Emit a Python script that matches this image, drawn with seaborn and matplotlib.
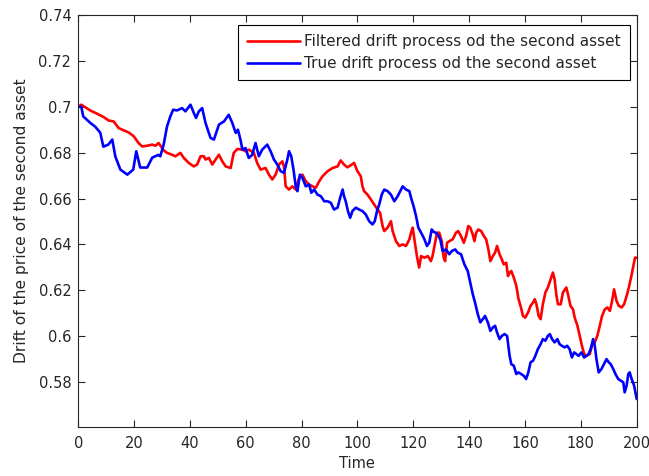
import matplotlib
matplotlib.use("Agg")
import matplotlib.pyplot as plt
import seaborn as sns
import pandas as pd

# Filtered drift estimate of the second asset (time, value)
t_filtered = [0, 1.1, 4.3, 6.7, 9.1, 10.9, 12.7, 14.5, 16.3, 18.1, 19.9, 21.6, 22.9, 24.7, 26.5,
              27.6, 28.8, 30.6, 31.8, 33.6, 34.8, 36.6, 37.8, 39.6, 41.4, 42.6, 43.8, 45.0, 45.6,
              46.8, 48.0, 49.2, 50.4, 51.6, 52.8, 54.6, 55.7, 57.0, 58.8, 59.9, 61.1, 62.9, 64.1,
              65.3, 67.1, 68.3, 69.5, 70.7, 71.9, 73.1, 73.7, 74.3, 75.5, 76.7, 77.9, 79.1, 80.3,
              81.5, 82.7, 83.9, 85.1, 86.3, 87.5, 89.3, 91.1, 92.9, 94.0, 95.2, 96.4, 97.6, 98.8,
              100.0, 101.2, 101.8, 102.4, 103.6, 104.8, 106.0, 107.2, 108.1, 109.0, 109.6, 110.8,
              112.0, 112.6, 113.8, 115.0, 116.2, 117.4, 118.6, 119.2, 119.8, 120.4, 121.3, 122.1,
              122.8, 124.0, 125.2, 126.3, 126.9, 127.8, 128.5, 129.3, 130.2, 130.9, 131.4, 132.1,
              132.9, 134.1, 135.3, 136.1, 137.1, 138.1, 138.9, 139.7, 140.4, 141.3, 141.9, 142.5,
              143.3, 144.3, 145.3, 146.1, 146.9, 147.6, 148.5, 149.3, 150.0, 150.9, 151.7, 152.4,
              153.3, 153.9, 154.5, 155.1, 156.0, 156.9, 157.7, 158.4, 159.3, 160.1, 161.1, 162.0,
              162.9, 163.5, 164.1, 164.9, 165.6, 166.4, 167.3, 168.2, 169.2, 170.0, 170.6, 171.2,
              171.8, 172.8, 173.6, 174.8, 175.4, 176.3, 177.2, 177.8, 178.8, 179.6, 180.4, 181.2,
              182.0, 183.2, 184.0, 185.0, 185.9, 186.8, 187.6, 188.6, 189.5, 190.4, 191.2, 191.9,
              192.8, 193.6, 194.6, 195.5, 196.4, 197.2, 198.1, 198.8, 199.4, 200.0]
filtered = [0.7000, 0.7009, 0.6984, 0.6970, 0.6955, 0.6940, 0.6936, 0.6907, 0.6897, 0.6888, 0.6871,
            0.6842, 0.6827, 0.6830, 0.6835, 0.6830, 0.6842, 0.6810, 0.6799, 0.6791, 0.6784, 0.6799,
            0.6777, 0.6755, 0.6740, 0.6748, 0.6784, 0.6784, 0.6770, 0.6777, 0.6748, 0.6770, 0.6791,
            0.6762, 0.6740, 0.6733, 0.6799, 0.6816, 0.6813, 0.6806, 0.6813, 0.6799, 0.6755, 0.6726,
            0.6733, 0.6704, 0.6683, 0.6704, 0.6748, 0.6762, 0.6740, 0.6653, 0.6639, 0.6653, 0.6639,
            0.6690, 0.6704, 0.6675, 0.6661, 0.6653, 0.6647, 0.6675, 0.6697, 0.6719, 0.6733, 0.6740,
            0.6766, 0.6748, 0.6736, 0.6745, 0.6755, 0.6719, 0.6697, 0.6653, 0.6632, 0.6617, 0.6596,
            0.6574, 0.6552, 0.6538, 0.6480, 0.6458, 0.6473, 0.6501, 0.6458, 0.6414, 0.6393, 0.6400,
            0.6393, 0.6422, 0.6451, 0.6473, 0.6422, 0.6349, 0.6299, 0.6349, 0.6342, 0.6349, 0.6327,
            0.6349, 0.6407, 0.6451, 0.6451, 0.6414, 0.6342, 0.6327, 0.6407, 0.6414, 0.6422, 0.6451,
            0.6458, 0.6436, 0.6407, 0.6436, 0.6480, 0.6473, 0.6443, 0.6414, 0.6451, 0.6465, 0.6458,
            0.6436, 0.6422, 0.6378, 0.6327, 0.6349, 0.6364, 0.6393, 0.6357, 0.6335, 0.6313, 0.6320,
            0.6262, 0.6277, 0.6284, 0.6255, 0.6219, 0.6161, 0.6132, 0.6088, 0.6081, 0.6103, 0.6132,
            0.6147, 0.6161, 0.6139, 0.6088, 0.6074, 0.6139, 0.6190, 0.6212, 0.6248, 0.6277, 0.6248,
            0.6183, 0.6139, 0.6139, 0.6190, 0.6212, 0.6183, 0.6132, 0.6117, 0.6081, 0.6045, 0.6001,
            0.5958, 0.5922, 0.5914, 0.5922, 0.5958, 0.5973, 0.6001, 0.6045, 0.6088, 0.6117, 0.6125,
            0.6110, 0.6153, 0.6204, 0.6153, 0.6132, 0.6125, 0.6139, 0.6175, 0.6212, 0.6262, 0.6306,
            0.6342, 0.6342]

# True drift of the second asset (time, value)
t_true = [0, 1.1, 1.8, 4.3, 6.1, 7.9, 9.0, 10.8, 12.2, 13.3, 15.1, 17.6, 19.7, 20.8, 22.2, 24.7,
          26.5, 28.7, 29.4, 30.6, 31.8, 33.0, 34.0, 35.4, 37.2, 38.4, 40.2, 41.4, 42.2, 43.2, 44.4,
          45.6, 47.4, 48.6, 50.4, 52.2, 53.9, 55.2, 56.4, 57.2, 58.1, 58.8, 59.9, 61.1, 62.3, 63.5,
          64.7, 65.9, 67.7, 68.9, 70.1, 71.3, 72.5, 73.7, 74.9, 75.5, 76.3, 77.1, 77.9, 78.5, 79.4,
          80.3, 81.5, 82.7, 83.5, 84.5, 85.7, 86.9, 88.1, 89.3, 90.5, 91.6, 92.9, 93.8, 94.7, 95.2,
          95.8, 96.6, 97.4, 98.2, 99.4, 100.6, 101.8, 103.0, 104.2, 105.4, 106.2, 107.0, 107.8,
          108.7, 109.6, 110.8, 112.0, 113.2, 114.4, 115.6, 116.2, 117.4, 118.6, 119.2, 120.1, 121.0,
          121.8, 122.8, 124.0, 124.9, 125.7, 126.6, 127.3, 128.1, 128.9, 129.7, 130.5, 131.7, 132.9,
          133.8, 135.0, 135.9, 137.1, 138.3, 139.5, 140.4, 141.3, 142.1, 143.1, 144.0, 144.9, 145.7,
          146.7, 147.6, 148.5, 149.3, 150.0, 150.9, 151.7, 152.7, 153.6, 154.5, 155.1, 156.0, 156.9,
          157.7, 158.6, 159.6, 160.4, 161.2, 162.0, 162.9, 163.7, 164.6, 165.6, 166.4, 167.3, 168.2,
          168.9, 169.7, 170.6, 171.6, 172.4, 173.2, 174.2, 175.1, 176.0, 176.8, 177.6, 178.4, 179.2,
          180.2, 181.2, 182.0, 182.8, 183.5, 184.4, 185.0, 185.6, 186.4, 187.4, 188.3, 189.2, 190.0,
          190.7, 191.6, 192.4, 193.4, 194.3, 195.2, 195.7, 196.4, 197.0, 197.5, 198.2, 199.1, 200.0]
true_drift = [0.7000, 0.7000, 0.6958, 0.6930, 0.6913, 0.6887, 0.6826, 0.6835, 0.6857, 0.6783, 0.6726,
              0.6704, 0.6726, 0.6806, 0.6735, 0.6735, 0.6778, 0.6790, 0.6784, 0.6835, 0.6914, 0.6958,
              0.6987, 0.6984, 0.6994, 0.6980, 0.7009, 0.6973, 0.6951, 0.6980, 0.6994, 0.6929, 0.6864,
              0.6857, 0.6922, 0.6936, 0.6965, 0.6929, 0.6886, 0.6900, 0.6857, 0.6813, 0.6820, 0.6777,
              0.6790, 0.6842, 0.6784, 0.6813, 0.6835, 0.6806, 0.6770, 0.6748, 0.6719, 0.6712, 0.6770,
              0.6806, 0.6784, 0.6726, 0.6653, 0.6632, 0.6704, 0.6690, 0.6653, 0.6661, 0.6625, 0.6639,
              0.6617, 0.6610, 0.6588, 0.6588, 0.6581, 0.6552, 0.6560, 0.6603, 0.6639, 0.6610, 0.6588,
              0.6545, 0.6516, 0.6545, 0.6560, 0.6552, 0.6545, 0.6530, 0.6501, 0.6487, 0.6501, 0.6545,
              0.6574, 0.6617, 0.6639, 0.6632, 0.6617, 0.6588, 0.6610, 0.6639, 0.6653, 0.6639, 0.6632,
              0.6603, 0.6567, 0.6523, 0.6473, 0.6451, 0.6422, 0.6393, 0.6407, 0.6465, 0.6455, 0.6450,
              0.6440, 0.6420, 0.6371, 0.6378, 0.6357, 0.6371, 0.6378, 0.6364, 0.6357, 0.6313, 0.6284,
              0.6233, 0.6183, 0.6147, 0.6096, 0.6060, 0.6074, 0.6088, 0.6060, 0.6023, 0.6038, 0.6045,
              0.6016, 0.5987, 0.6001, 0.6009, 0.6001, 0.5914, 0.5878, 0.5871, 0.5835, 0.5842, 0.5835,
              0.5827, 0.5813, 0.5842, 0.5886, 0.5893, 0.5914, 0.5943, 0.5965, 0.5987, 0.5980, 0.6001,
              0.6009, 0.5987, 0.5973, 0.5987, 0.5965, 0.5958, 0.5951, 0.5958, 0.5943, 0.5907, 0.5929,
              0.5922, 0.5914, 0.5929, 0.5907, 0.5914, 0.5922, 0.5943, 0.5987, 0.5958, 0.5900, 0.5842,
              0.5857, 0.5878, 0.5900, 0.5886, 0.5878, 0.5857, 0.5835, 0.5813, 0.5806, 0.5799, 0.5755,
              0.5784, 0.5835, 0.5842, 0.5813, 0.5784, 0.5726]

x_ticks = [0, 20, 40, 60, 80, 100, 120, 140, 160, 180, 200]
y_ticks = [0.58, 0.60, 0.62, 0.64, 0.66, 0.68, 0.70, 0.72, 0.74]
y_tick_labels = ["0.58", "0.6", "0.62", "0.64", "0.66", "0.68", "0.7", "0.72", "0.74"]

label_filtered = "Filtered drift process od the second asset"
label_true = "True drift process od the second asset"

sns.set_style("ticks")
plt.rcParams["font.family"] = ["DejaVu Sans"]
plt.rcParams["xtick.direction"] = "in"
plt.rcParams["ytick.direction"] = "in"

df_f = pd.DataFrame({"Time": t_filtered, "Drift": filtered})
df_t = pd.DataFrame({"Time": t_true, "Drift": true_drift})

fig = plt.figure(figsize=(6.49, 4.76), dpi=100)
ax = fig.add_axes([0.1205, 0.1025, 0.8605, 0.866])

sns.lineplot(data=df_f, x="Time", y="Drift", ax=ax, color="#ff0000", linewidth=1.9,
             sort=False, estimator=None, label=label_filtered)
sns.lineplot(data=df_t, x="Time", y="Drift", ax=ax, color="#0000ff", linewidth=1.9,
             sort=False, estimator=None, label=label_true)

ax.set_xlim(0, 200)
ax.set_ylim(0.5603, 0.74)
ax.set_xticks(x_ticks)
ax.set_yticks(y_ticks)
ax.set_yticklabels(y_tick_labels)
ax.tick_params(axis="both", which="both", direction="in", length=5, width=0.8,
               top=True, right=True, labelsize=10.5, colors="#262626")
ax.tick_params(axis="x", pad=6)
ax.tick_params(axis="y", pad=5)
for s in ax.spines.values():
    s.set_visible(True)
    s.set_color("#262626")
    s.set_linewidth(0.8)

ax.set_xlabel("Time", fontsize=10.5, labelpad=4)
ax.set_ylabel("Drift of the price of the second asset", fontsize=11.2, labelpad=7)

leg = ax.legend(loc="upper right", bbox_to_anchor=(630 / 649, 1 - 25 / 476),
                bbox_transform=fig.transFigure, borderaxespad=0,
                fontsize=11, frameon=True, fancybox=False,
                handlelength=3.5, borderpad=0.6, labelspacing=0.45, handletextpad=0.25)
leg.get_frame().set_edgecolor("#000000")
leg.get_frame().set_linewidth(0.8)
leg.get_frame().set_alpha(1)

fig.savefig("out.png", dpi=100)
